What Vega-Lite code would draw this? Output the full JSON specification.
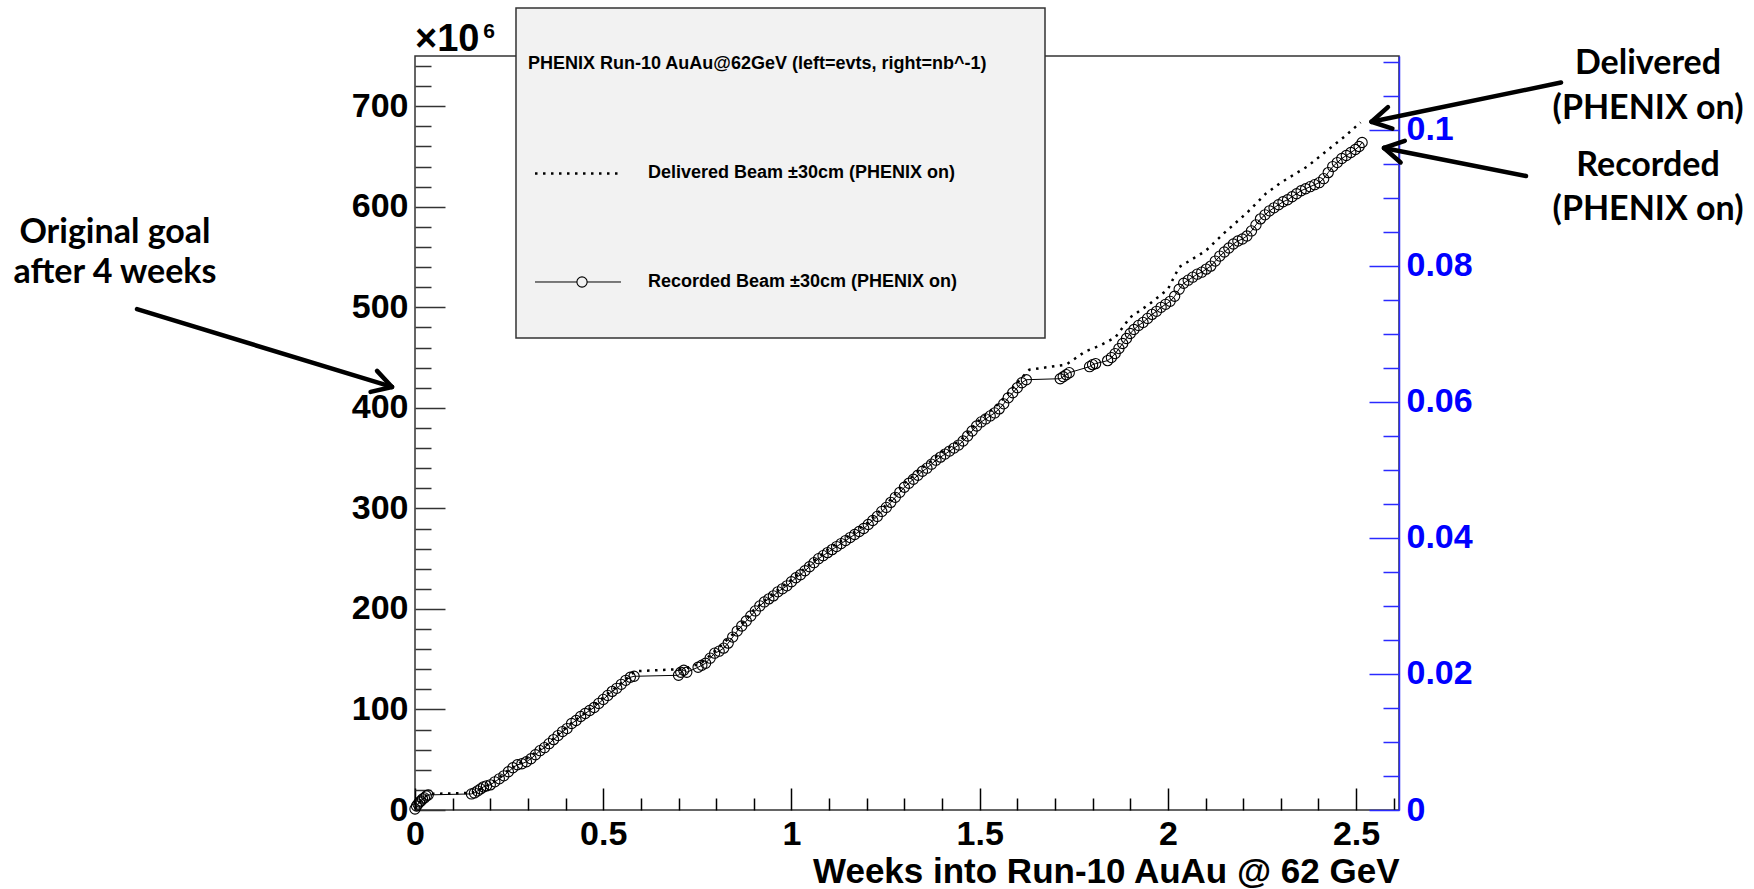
{
  "$schema": "https://vega.github.io/schema/vega-lite/v6.json",
  "width": 984,
  "height": 754,
  "autosize": "none",
  "padding": {"left": 415, "top": 56, "right": 355, "bottom": 79},
  "background": "white",
  "config": {"view": {"stroke": "#333333", "strokeWidth": 1.5}, "font": "Liberation Sans"},
  "datasets": {
    "recorded": [
      {"week":0,"events":1},{"week":0.004,"events":4},{"week":0.008,"events":6},{"week":0.012,"events":8},{"week":0.016,"events":9},{"week":0.02,"events":11},{"week":0.025,"events":12},{"week":0.03,"events":14},{"week":0.035,"events":15},
      {"week":0.15,"events":16},{"week":0.158,"events":17},{"week":0.166,"events":19},{"week":0.174,"events":21},{"week":0.182,"events":23},{"week":0.19,"events":24},{"week":0.2,"events":25},{"week":0.212,"events":28},{"week":0.224,"events":31},{"week":0.236,"events":34},{"week":0.248,"events":38},{"week":0.26,"events":42},{"week":0.272,"events":45},{"week":0.284,"events":46},{"week":0.296,"events":48},{"week":0.308,"events":51},{"week":0.32,"events":55},{"week":0.332,"events":59},{"week":0.344,"events":62},{"week":0.356,"events":66},{"week":0.368,"events":70},{"week":0.38,"events":74},{"week":0.392,"events":78},{"week":0.404,"events":81},{"week":0.416,"events":86},{"week":0.428,"events":89},{"week":0.44,"events":93},{"week":0.452,"events":96},{"week":0.464,"events":99},{"week":0.476,"events":102},{"week":0.488,"events":106},{"week":0.5,"events":110},{"week":0.512,"events":114},{"week":0.524,"events":118},{"week":0.536,"events":121},{"week":0.548,"events":125},{"week":0.56,"events":129},{"week":0.572,"events":132},{"week":0.582,"events":133},
      {"week":0.7,"events":134},{"week":0.706,"events":137},{"week":0.714,"events":139},{"week":0.722,"events":137},
      {"week":0.752,"events":142},{"week":0.762,"events":144},{"week":0.772,"events":146},{"week":0.784,"events":151},{"week":0.796,"events":156},{"week":0.808,"events":158},{"week":0.82,"events":161},{"week":0.832,"events":166},{"week":0.844,"events":172},{"week":0.856,"events":178},{"week":0.868,"events":183},{"week":0.88,"events":188},{"week":0.892,"events":193},{"week":0.904,"events":198},{"week":0.916,"events":203},{"week":0.928,"events":207},{"week":0.94,"events":210},{"week":0.952,"events":213},{"week":0.964,"events":217},{"week":0.976,"events":220},{"week":0.988,"events":223},{"week":1.0,"events":227},{"week":1.012,"events":231},{"week":1.024,"events":234},{"week":1.036,"events":238},{"week":1.048,"events":242},{"week":1.06,"events":246},{"week":1.072,"events":250},{"week":1.084,"events":253},{"week":1.096,"events":256},{"week":1.108,"events":259},{"week":1.12,"events":262},{"week":1.132,"events":265},{"week":1.144,"events":268},{"week":1.156,"events":271},{"week":1.168,"events":274},{"week":1.18,"events":277},{"week":1.192,"events":280},{"week":1.204,"events":284},{"week":1.216,"events":288},{"week":1.228,"events":292},{"week":1.24,"events":297},{"week":1.252,"events":301},{"week":1.264,"events":306},{"week":1.276,"events":311},{"week":1.288,"events":316},{"week":1.3,"events":321},{"week":1.312,"events":325},{"week":1.324,"events":329},{"week":1.336,"events":333},{"week":1.348,"events":337},{"week":1.36,"events":340},{"week":1.372,"events":344},{"week":1.384,"events":348},{"week":1.396,"events":351},{"week":1.408,"events":354},{"week":1.42,"events":357},{"week":1.432,"events":360},{"week":1.444,"events":363},{"week":1.456,"events":367},{"week":1.468,"events":372},{"week":1.48,"events":377},{"week":1.492,"events":382},{"week":1.504,"events":386},{"week":1.516,"events":389},{"week":1.528,"events":392},{"week":1.54,"events":395},{"week":1.552,"events":399},{"week":1.564,"events":404},{"week":1.576,"events":410},{"week":1.588,"events":415},{"week":1.6,"events":420},{"week":1.612,"events":425},{"week":1.624,"events":428},
      {"week":1.714,"events":429},{"week":1.722,"events":431},{"week":1.73,"events":433},{"week":1.738,"events":435},
      {"week":1.792,"events":441},{"week":1.8,"events":443},{"week":1.808,"events":444},
      {"week":1.84,"events":447},{"week":1.85,"events":450},{"week":1.86,"events":454},{"week":1.87,"events":459},{"week":1.88,"events":464},{"week":1.89,"events":469},{"week":1.9,"events":474},{"week":1.91,"events":478},{"week":1.922,"events":482},{"week":1.934,"events":485},{"week":1.946,"events":489},{"week":1.958,"events":493},{"week":1.97,"events":496},{"week":1.982,"events":500},{"week":1.994,"events":503},{"week":2.006,"events":506},{"week":2.018,"events":511},{"week":2.03,"events":518},{"week":2.042,"events":524},{"week":2.054,"events":527},{"week":2.066,"events":530},{"week":2.078,"events":533},{"week":2.09,"events":535},{"week":2.102,"events":538},{"week":2.114,"events":541},{"week":2.126,"events":546},{"week":2.138,"events":551},{"week":2.15,"events":555},{"week":2.162,"events":559},{"week":2.174,"events":563},{"week":2.186,"events":566},{"week":2.198,"events":568},{"week":2.21,"events":571},{"week":2.222,"events":576},{"week":2.234,"events":582},{"week":2.246,"events":588},{"week":2.258,"events":592},{"week":2.27,"events":596},{"week":2.282,"events":599},{"week":2.294,"events":602},{"week":2.306,"events":605},{"week":2.318,"events":607},{"week":2.33,"events":610},{"week":2.342,"events":613},{"week":2.354,"events":616},{"week":2.366,"events":618},{"week":2.378,"events":620},{"week":2.39,"events":622},{"week":2.402,"events":624},{"week":2.414,"events":628},{"week":2.426,"events":634},{"week":2.438,"events":640},{"week":2.45,"events":644},{"week":2.462,"events":648},{"week":2.474,"events":651},{"week":2.486,"events":654},{"week":2.498,"events":657},{"week":2.508,"events":660},{"week":2.516,"events":664}
    ],
    "delivered": [
      {"week":0,"events":1},{"week":0.01,"events":7},{"week":0.02,"events":11},{"week":0.035,"events":16},{"week":0.15,"events":17},{"week":0.17,"events":20},{"week":0.2,"events":26},{"week":0.25,"events":40},{"week":0.3,"events":52},{"week":0.35,"events":65},{"week":0.4,"events":82},{"week":0.45,"events":96},{"week":0.5,"events":112},{"week":0.55,"events":127},{"week":0.585,"events":138},{"week":0.7,"events":140},{"week":0.72,"events":141},{"week":0.76,"events":146},{"week":0.8,"events":159},{"week":0.85,"events":177},{"week":0.9,"events":199},{"week":0.95,"events":215},{"week":1.0,"events":229},{"week":1.05,"events":245},{"week":1.1,"events":260},{"week":1.15,"events":272},{"week":1.2,"events":285},{"week":1.25,"events":303},{"week":1.3,"events":325},{"week":1.35,"events":341},{"week":1.4,"events":356},{"week":1.45,"events":368},{"week":1.5,"events":388},{"week":1.55,"events":404},{"week":1.6,"events":425},{"week":1.632,"events":438},{"week":1.73,"events":443},{"week":1.78,"events":456},{"week":1.82,"events":462},{"week":1.86,"events":470},{"week":1.9,"events":490},{"week":1.95,"events":503},{"week":2.0,"events":518},{"week":2.03,"events":540},{"week":2.1,"events":556},{"week":2.15,"events":574},{"week":2.21,"events":594},{"week":2.26,"events":613},{"week":2.3,"events":624},{"week":2.37,"events":640},{"week":2.42,"events":655},{"week":2.47,"events":670},{"week":2.512,"events":684}
    ]
  },
  "resolve": {"scale": {"y": "independent"}, "axis": {"x": "independent", "y": "independent"}},
  "layer": [
    {
      "resolve": {"axis": {"x": "independent", "y": "independent"}},
      "layer": [
        {
          "data": {"name": "delivered"},
          "mark": {"type": "line", "color": "black", "strokeWidth": 2.5, "strokeDash": [2.5, 5.5], "strokeCap": "butt"},
          "encoding": {
            "x": {"field": "week", "type": "quantitative", "scale": {"domain": [0, 2.614], "nice": false, "zero": false},
              "axis": {"orient": "bottom", "values": [0, 0.5, 1, 1.5, 2, 2.5], "format": "~g", "ticks": false, "domain": false, "grid": false,
                "labelFont": "Liberation Sans", "labelFontSize": 34, "labelFontWeight": "bold", "labelColor": "black", "labelPadding": 7,
                "labelFlush": false, "labelOverlap": false, "labelBound": false,
                "title": "Weeks into Run-10 AuAu @ 62 GeV", "titleFont": "Liberation Sans", "titleFontSize": 35, "titleFontWeight": "bold",
                "titleColor": "black", "titleAnchor": "end", "titlePadding": 3}},
            "y": {"field": "events", "type": "quantitative", "scale": {"domain": [0, 750], "nice": false, "zero": false},
              "axis": {"orient": "left", "values": [0, 100, 200, 300, 400, 500, 600, 700], "ticks": false, "domain": false, "grid": false,
                "labelFont": "Liberation Sans", "labelFontSize": 34, "labelFontWeight": "bold", "labelColor": "black", "labelPadding": 7,
                "labelFlush": false, "labelOverlap": false, "labelBound": false, "title": null}}
          }
        },
        {
          "data": {"name": "recorded"},
          "mark": {"type": "line", "color": "black", "strokeWidth": 1},
          "encoding": {
            "x": {"field": "week", "type": "quantitative", "scale": {"domain": [0, 2.614], "nice": false, "zero": false},
              "axis": {"orient": "bottom", "values": [0, 0.5, 1, 1.5, 2, 2.5], "labels": false, "domain": false, "grid": false,
                "ticks": true, "tickSize": -22, "tickWidth": 1.5, "tickColor": "black", "title": null}},
            "y": {"field": "events", "type": "quantitative", "scale": {"domain": [0, 750], "nice": false, "zero": false},
              "axis": {"orient": "left", "values": [0, 100, 200, 300, 400, 500, 600, 700], "labels": false, "domain": false, "grid": false,
                "ticks": true, "tickSize": -30, "tickWidth": 1.5, "tickColor": "#333333", "title": null}}
          }
        },
        {
          "data": {"name": "recorded"},
          "mark": {"type": "point", "shape": "circle", "filled": false, "stroke": "black", "strokeWidth": 1.1, "size": 105, "opacity": 1},
          "encoding": {
            "x": {"field": "week", "type": "quantitative", "scale": {"domain": [0, 2.614], "nice": false, "zero": false},
              "axis": {"orient": "bottom", "values": [0.1, 0.2, 0.3, 0.4, 0.6, 0.7, 0.8, 0.9, 1.1, 1.2, 1.3, 1.4, 1.6, 1.7, 1.8, 1.9, 2.1, 2.2, 2.3, 2.4, 2.6],
                "labels": false, "domain": false, "grid": false, "ticks": true, "tickSize": -12, "tickWidth": 1.5, "tickColor": "black", "title": null}},
            "y": {"field": "events", "type": "quantitative", "scale": {"domain": [0, 750], "nice": false, "zero": false},
              "axis": {"orient": "left", "values": [20, 40, 60, 80, 120, 140, 160, 180, 220, 240, 260, 280, 320, 340, 360, 380, 420, 440, 460, 480, 520, 540, 560, 580, 620, 640, 660, 680, 720, 740],
                "labels": false, "domain": false, "grid": false, "ticks": true, "tickSize": -16, "tickWidth": 1.5, "tickColor": "#333333", "title": null}}
          }
        },
        {
          "data": {"values": [{}]},
          "mark": {"type": "rect", "fill": "#f2f2f2", "stroke": "#333333", "strokeWidth": 1.5},
          "encoding": {
            "x": {"datum": 0.2683, "scale": {"domain": [0, 2.614], "nice": false, "zero": false}, "axis": null},
            "x2": {"datum": 1.6736},
            "y": {"datum": 469.5, "scale": {"domain": [0, 750], "nice": false, "zero": false}, "axis": null},
            "y2": {"datum": 797.7}
          }
        },
        {
          "data": {"values": [{}]},
          "mark": {"type": "text", "text": "PHENIX Run-10 AuAu@62GeV (left=evts, right=nb^-1)", "font": "Liberation Sans", "fontWeight": "bold", "fontSize": 18, "align": "left", "baseline": "middle", "color": "black"},
          "encoding": {
            "x": {"datum": 0.3002, "scale": {"domain": [0, 2.614], "nice": false, "zero": false}, "axis": null},
            "y": {"datum": 742.0, "scale": {"domain": [0, 750], "nice": false, "zero": false}, "axis": null}
          }
        },
        {
          "data": {"values": [{}]},
          "mark": {"type": "rule", "color": "black", "strokeWidth": 2.5, "strokeDash": [2.5, 5.5], "strokeCap": "butt"},
          "encoding": {
            "x": {"datum": 0.3188, "scale": {"domain": [0, 2.614], "nice": false, "zero": false}, "axis": null},
            "x2": {"datum": 0.5472},
            "y": {"datum": 633.2, "scale": {"domain": [0, 750], "nice": false, "zero": false}, "axis": null}
          }
        },
        {
          "data": {"values": [{}]},
          "mark": {"type": "text", "text": "Delivered Beam ±30cm (PHENIX on)", "font": "Liberation Sans", "fontWeight": "bold", "fontSize": 18, "align": "left", "baseline": "middle", "color": "black"},
          "encoding": {
            "x": {"datum": 0.619, "scale": {"domain": [0, 2.614], "nice": false, "zero": false}, "axis": null},
            "y": {"datum": 633.2, "scale": {"domain": [0, 750], "nice": false, "zero": false}, "axis": null}
          }
        },
        {
          "data": {"values": [{}]},
          "mark": {"type": "rule", "color": "black", "strokeWidth": 1},
          "encoding": {
            "x": {"datum": 0.3188, "scale": {"domain": [0, 2.614], "nice": false, "zero": false}, "axis": null},
            "x2": {"datum": 0.5472},
            "y": {"datum": 525.2, "scale": {"domain": [0, 750], "nice": false, "zero": false}, "axis": null}
          }
        },
        {
          "data": {"values": [{}]},
          "mark": {"type": "point", "shape": "circle", "filled": false, "stroke": "black", "fill": "#f2f2f2", "strokeWidth": 1.1, "size": 105, "opacity": 1},
          "encoding": {
            "x": {"datum": 0.4437, "scale": {"domain": [0, 2.614], "nice": false, "zero": false}, "axis": null},
            "y": {"datum": 525.2, "scale": {"domain": [0, 750], "nice": false, "zero": false}, "axis": null}
          }
        },
        {
          "data": {"values": [{}]},
          "mark": {"type": "text", "text": "Recorded Beam ±30cm (PHENIX on)", "font": "Liberation Sans", "fontWeight": "bold", "fontSize": 18, "align": "left", "baseline": "middle", "color": "black"},
          "encoding": {
            "x": {"datum": 0.619, "scale": {"domain": [0, 2.614], "nice": false, "zero": false}, "axis": null},
            "y": {"datum": 525.2, "scale": {"domain": [0, 750], "nice": false, "zero": false}, "axis": null}
          }
        },
        {
          "data": {"values": [{}]},
          "mark": {"type": "text", "text": "×10", "font": "Liberation Sans", "fontWeight": "bold", "fontSize": 38, "align": "left", "baseline": "alphabetic", "color": "black"},
          "encoding": {
            "x": {"datum": 0, "scale": {"domain": [0, 2.614], "nice": false, "zero": false}, "axis": null},
            "y": {"datum": 755.0, "scale": {"domain": [0, 750], "nice": false, "zero": false}, "axis": null}
          }
        },
        {
          "data": {"values": [{}]},
          "mark": {"type": "text", "text": "6", "font": "Liberation Sans", "fontWeight": "bold", "fontSize": 21, "align": "left", "baseline": "alphabetic", "color": "black"},
          "encoding": {
            "x": {"datum": 0.181, "scale": {"domain": [0, 2.614], "nice": false, "zero": false}, "axis": null},
            "y": {"datum": 767.5, "scale": {"domain": [0, 750], "nice": false, "zero": false}, "axis": null}
          }
        },
        {
          "data": {"values": [{}]},
          "mark": {"type": "text", "text": ["Original goal", "after 4 weeks"], "font": "Lato", "fontWeight": "bold", "fontSize": 34, "lineHeight": 40, "align": "center", "baseline": "middle", "color": "black"},
          "encoding": {
            "x": {"datum": -0.797, "scale": {"domain": [0, 2.614], "nice": false, "zero": false}, "axis": null},
            "y": {"datum": 573.9, "scale": {"domain": [0, 750], "nice": false, "zero": false}, "axis": null}
          }
        },
        {
          "data": {"values": [{}]},
          "mark": {"type": "text", "text": ["Delivered", "(PHENIX on)"], "font": "Lato", "fontWeight": "bold", "fontSize": 34, "lineHeight": 45, "align": "center", "baseline": "middle", "color": "black"},
          "encoding": {
            "x": {"datum": 3.2755, "scale": {"domain": [0, 2.614], "nice": false, "zero": false}, "axis": null},
            "y": {"datum": 742.2, "scale": {"domain": [0, 750], "nice": false, "zero": false}, "axis": null}
          }
        },
        {
          "data": {"values": [{}]},
          "mark": {"type": "text", "text": ["Recorded", "(PHENIX on)"], "font": "Lato", "fontWeight": "bold", "fontSize": 34, "lineHeight": 44, "align": "center", "baseline": "middle", "color": "black"},
          "encoding": {
            "x": {"datum": 3.2755, "scale": {"domain": [0, 2.614], "nice": false, "zero": false}, "axis": null},
            "y": {"datum": 641.0, "scale": {"domain": [0, 750], "nice": false, "zero": false}, "axis": null}
          }
        },
        {
          "data": {"values": [{}]},
          "mark": {"type": "rule", "color": "black", "strokeWidth": 4.5, "strokeCap": "round"},
          "encoding": {
            "x": {"datum": -0.7385, "scale": {"domain": [0, 2.614], "nice": false, "zero": false}, "axis": null},
            "y": {"datum": 498.3, "scale": {"domain": [0, 750], "nice": false, "zero": false}, "axis": null},
            "x2": {"datum": -0.0611}, "y2": {"datum": 420.8}
          }
        },
        {
          "data": {"values": [{}]},
          "mark": {"type": "rule", "color": "black", "strokeWidth": 4.5, "strokeCap": "round"},
          "encoding": {
            "x": {"datum": -0.0611, "scale": {"domain": [0, 2.614], "nice": false, "zero": false}, "axis": null},
            "y": {"datum": 420.8, "scale": {"domain": [0, 750], "nice": false, "zero": false}, "axis": null},
            "x2": {"datum": -0.1009}, "y2": {"datum": 436.8}
          }
        },
        {
          "data": {"values": [{}]},
          "mark": {"type": "rule", "color": "black", "strokeWidth": 4.5, "strokeCap": "round"},
          "encoding": {
            "x": {"datum": -0.0611, "scale": {"domain": [0, 2.614], "nice": false, "zero": false}, "axis": null},
            "y": {"datum": 420.8, "scale": {"domain": [0, 750], "nice": false, "zero": false}, "axis": null},
            "x2": {"datum": -0.118}, "y2": {"datum": 415.9}
          }
        },
        {
          "data": {"values": [{}]},
          "mark": {"type": "rule", "color": "black", "strokeWidth": 4.5, "strokeCap": "round"},
          "encoding": {
            "x": {"datum": 3.0444, "scale": {"domain": [0, 2.614], "nice": false, "zero": false}, "axis": null},
            "y": {"datum": 723.6, "scale": {"domain": [0, 750], "nice": false, "zero": false}, "axis": null},
            "x2": {"datum": 2.541}, "y2": {"datum": 684.6}
          }
        },
        {
          "data": {"values": [{}]},
          "mark": {"type": "rule", "color": "black", "strokeWidth": 4.5, "strokeCap": "round"},
          "encoding": {
            "x": {"datum": 2.541, "scale": {"domain": [0, 2.614], "nice": false, "zero": false}, "axis": null},
            "y": {"datum": 684.6, "scale": {"domain": [0, 750], "nice": false, "zero": false}, "axis": null},
            "x2": {"datum": 2.5965}, "y2": {"datum": 677.8}
          }
        },
        {
          "data": {"values": [{}]},
          "mark": {"type": "rule", "color": "black", "strokeWidth": 4.5, "strokeCap": "round"},
          "encoding": {
            "x": {"datum": 2.541, "scale": {"domain": [0, 2.614], "nice": false, "zero": false}, "axis": null},
            "y": {"datum": 684.6, "scale": {"domain": [0, 750], "nice": false, "zero": false}, "axis": null},
            "x2": {"datum": 2.5846}, "y2": {"datum": 699.2}
          }
        },
        {
          "data": {"values": [{}]},
          "mark": {"type": "rule", "color": "black", "strokeWidth": 4.5, "strokeCap": "round"},
          "encoding": {
            "x": {"datum": 2.9514, "scale": {"domain": [0, 2.614], "nice": false, "zero": false}, "axis": null},
            "y": {"datum": 630.6, "scale": {"domain": [0, 750], "nice": false, "zero": false}, "axis": null},
            "x2": {"datum": 2.5742}, "y2": {"datum": 658.5}
          }
        },
        {
          "data": {"values": [{}]},
          "mark": {"type": "rule", "color": "black", "strokeWidth": 4.5, "strokeCap": "round"},
          "encoding": {
            "x": {"datum": 2.5742, "scale": {"domain": [0, 2.614], "nice": false, "zero": false}, "axis": null},
            "y": {"datum": 658.5, "scale": {"domain": [0, 750], "nice": false, "zero": false}, "axis": null},
            "x2": {"datum": 2.6183}, "y2": {"datum": 644.1}
          }
        },
        {
          "data": {"values": [{}]},
          "mark": {"type": "rule", "color": "black", "strokeWidth": 4.5, "strokeCap": "round"},
          "encoding": {
            "x": {"datum": 2.5742, "scale": {"domain": [0, 2.614], "nice": false, "zero": false}, "axis": null},
            "y": {"datum": 658.5, "scale": {"domain": [0, 750], "nice": false, "zero": false}, "axis": null},
            "x2": {"datum": 2.6294}, "y2": {"datum": 665.6}
          }
        }
      ]
    },
    {
      "resolve": {"axis": {"y": "independent"}},
      "layer": [
        {
          "data": {"values": [{}]},
          "mark": {"type": "point", "opacity": 0, "size": 0},
          "encoding": {
            "y": {"datum": 0, "type": "quantitative", "scale": {"domain": [0, 0.11085], "nice": false, "zero": false},
              "axis": {"orient": "right", "values": [0, 0.02, 0.04, 0.06, 0.08, 0.1], "format": "~g", "ticks": false,
                "domain": true, "domainColor": "#2a2aff", "domainWidth": 1.5, "grid": false,
                "labelFont": "Liberation Sans", "labelFontSize": 34, "labelFontWeight": "bold", "labelColor": "#0000ff", "labelPadding": 7,
                "labelFlush": false, "labelOverlap": false, "labelBound": false, "title": null}}
          }
        },
        {
          "data": {"values": [{}]},
          "mark": {"type": "point", "opacity": 0, "size": 0},
          "encoding": {
            "y": {"datum": 0, "type": "quantitative", "scale": {"domain": [0, 0.11085], "nice": false, "zero": false},
              "axis": {"orient": "right", "values": [0, 0.02, 0.04, 0.06, 0.08, 0.1], "labels": false, "domain": false, "grid": false,
                "ticks": true, "tickSize": -30, "tickWidth": 1.5, "tickColor": "#2a2aff", "title": null}}
          }
        },
        {
          "data": {"values": [{}]},
          "mark": {"type": "point", "opacity": 0, "size": 0},
          "encoding": {
            "y": {"datum": 0, "type": "quantitative", "scale": {"domain": [0, 0.11085], "nice": false, "zero": false},
              "axis": {"orient": "right", "values": [0.005, 0.01, 0.015, 0.025, 0.03, 0.035, 0.045, 0.05, 0.055, 0.065, 0.07, 0.075, 0.085, 0.09, 0.095, 0.105, 0.11],
                "labels": false, "domain": false, "grid": false, "ticks": true, "tickSize": -16, "tickWidth": 1.5, "tickColor": "#2a2aff", "title": null}}
          }
        }
      ]
    }
  ]
}
